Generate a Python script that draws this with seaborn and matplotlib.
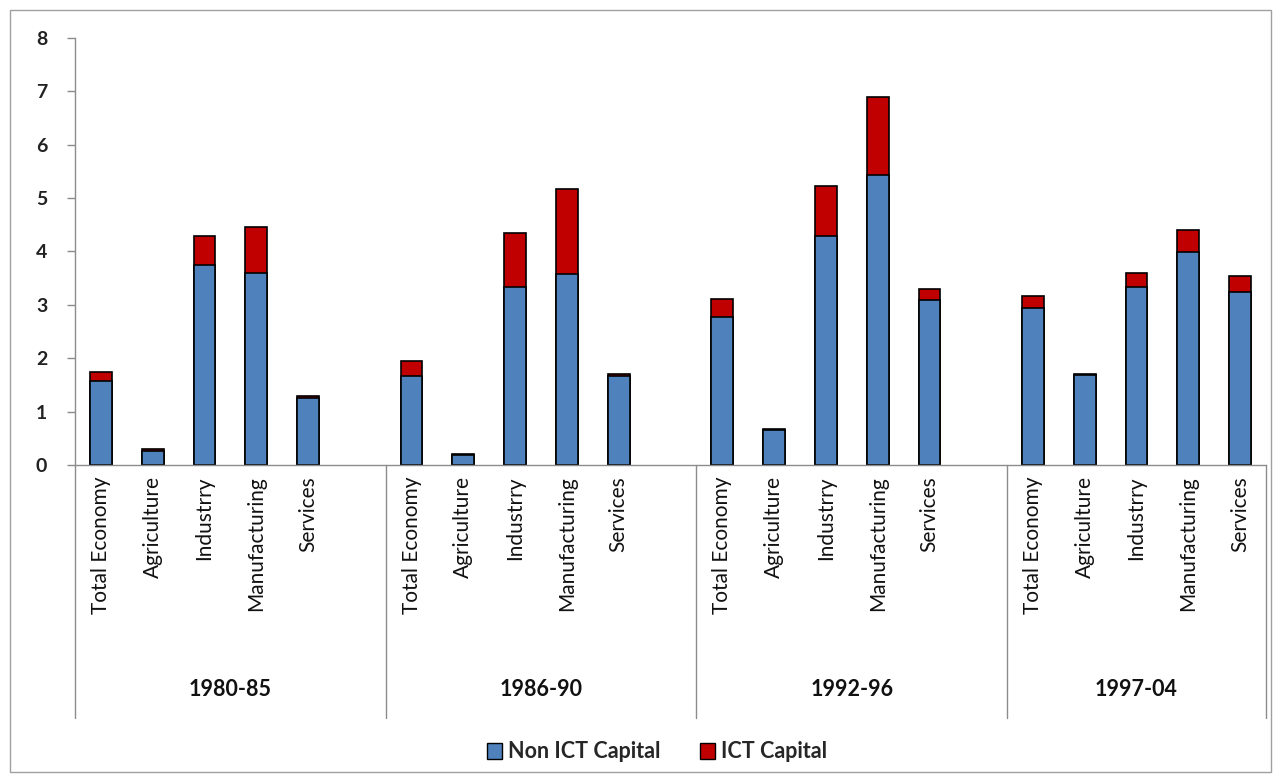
import matplotlib
matplotlib.use("Agg")
import matplotlib.pyplot as plt
import seaborn as sns
import pandas as pd
from matplotlib.patches import Patch, Rectangle
import matplotlib.transforms as mtransforms

periods = ["1980-85", "1986-90", "1992-96", "1997-04"]
sectors = ["Total Economy", "Agriculture", "Industrry", "Manufacturing", "Services"]
non_ict = [
    [1.58, 0.26, 3.74, 3.60, 1.26],
    [1.67, 0.18, 3.33, 3.57, 1.67],
    [2.77, 0.65, 4.29, 5.43, 3.10],
    [2.94, 1.68, 3.33, 3.99, 3.25],
]
ict = [
    [0.16, 0.04, 0.55, 0.86, 0.03],
    [0.28, 0.03, 1.02, 1.60, 0.03],
    [0.34, 0.03, 0.94, 1.47, 0.20],
    [0.23, 0.03, 0.26, 0.42, 0.30],
]

BLUE = "#4F81BD"
RED = "#C00000"
GRAY = "#8c8c8c"

rows = []
order = []
for g, p in enumerate(periods):
    for i, s in enumerate(sectors):
        key = f"{g}-{i}"
        order.append(key)
        rows.append(dict(slot=key, period=p, sector=s,
                         non_ict=non_ict[g][i], total=non_ict[g][i] + ict[g][i]))
    if g < len(periods) - 1:
        order.append(f"{g}-gap")
df = pd.DataFrame(rows)

sns.set_style("white")
plt.rcParams["font.family"] = ["Lato", "DejaVu Sans"]

fig = plt.figure(figsize=(12.81, 7.82), dpi=100)
ax = fig.add_axes([75 / 1281, 1 - 465 / 782, (1266 - 75) / 1281, (465 - 38) / 782])

sns.barplot(data=df, x="slot", y="total", order=order, color=RED, saturation=1,
            edgecolor="black", linewidth=1.2, width=0.42, errorbar=None, ax=ax)
sns.barplot(data=df, x="slot", y="non_ict", order=order, color=BLUE, saturation=1,
            edgecolor="black", linewidth=1.2, width=0.42, errorbar=None, ax=ax)

ax.set_xlim(-0.5, len(order) - 0.5)
ax.set_ylim(0, 8)
ax.set_yticks(range(0, 9))
ax.set_yticklabels([str(v) for v in range(0, 9)], fontsize=14, fontweight="bold", color="#222222")
ax.tick_params(axis="y", direction="out", length=6, color=GRAY, width=1, pad=14, left=True)
ax.set_xticks([])
ax.set_xlabel("")
ax.set_ylabel("")
for sp in ["top", "right"]:
    ax.spines[sp].set_visible(False)
for sp in ["left", "bottom"]:
    ax.spines[sp].set_color(GRAY)
    ax.spines[sp].set_linewidth(1)

trans = mtransforms.blended_transform_factory(ax.transData, ax.transAxes)
sep_y = (465 - 718) / 427
boundaries = [-0.5, 5.5, 11.5, 17.5, len(order) - 0.5]
for b in boundaries:
    ax.plot([b, b], [0, sep_y], transform=trans, color=GRAY, lw=1, clip_on=False)

pos = {k: i for i, k in enumerate(order)}
for g, p in enumerate(periods):
    for i, s in enumerate(sectors):
        x = pos[f"{g}-{i}"]
        ax.text(x, -0.026, s, transform=trans, rotation=90, ha="center", va="top",
                fontsize=15, color="#111111")
    center = (boundaries[g] + boundaries[g + 1]) / 2
    ax.text(center, (465 - 690) / 427, p, transform=trans, ha="center", va="center",
            fontsize=15.5, fontweight="bold", color="#111111")

handles = [Patch(facecolor=BLUE, edgecolor="black", label="Non ICT Capital"),
           Patch(facecolor=RED, edgecolor="black", label="ICT Capital")]
fig.legend(handles=handles, loc="center", bbox_to_anchor=(657 / 1281, 1 - 752 / 782),
           ncol=2, frameon=False, prop=dict(size=15.5, weight="bold"),
           handlelength=0.7, handleheight=0.7, handletextpad=0.3, columnspacing=1.8)

fig.add_artist(Rectangle((10 / 1281, 10 / 782), 1 - 20 / 1281, 1 - 20 / 782,
                         transform=fig.transFigure, fill=False, edgecolor="#a0a0a0", lw=1))

fig.savefig("out.png", dpi=100)
